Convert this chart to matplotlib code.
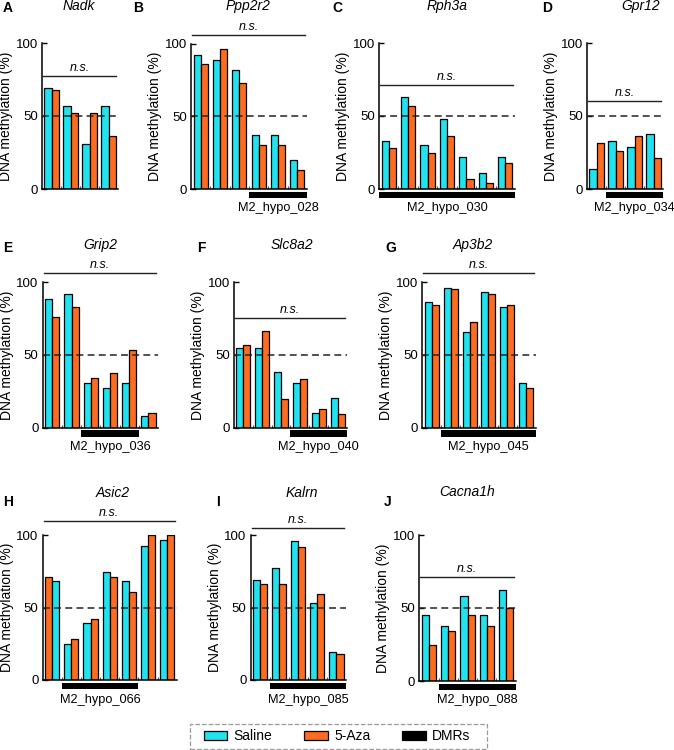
import matplotlib
matplotlib.use("Agg")
import matplotlib.pyplot as plt
from matplotlib.patches import Patch, Rectangle

plt.rcParams["font.family"] = ["Liberation Sans", "DejaVu Sans"]

W, H = 674, 750
SALINE = "#20E3EF"
AZA = "#FF6B1F"

# DNA methylation (%) per CpG site
genes = ["Nadk", "Ppp2r2", "Rph3a", "Gpr12", "Grip2", "Slc8a2", "Ap3b2", "Asic2", "Kalrn", "Cacna1h"]
letters = ["A", "B", "C", "D", "E", "F", "G", "H", "I", "J"]

nadk_saline = [69, 57, 31, 57]
nadk_aza = [68, 52, 52, 36]
ppp2r2_saline = [92, 89, 82, 37, 37, 20]
ppp2r2_aza = [86, 96, 73, 30, 30, 13]
rph3a_saline = [33, 63, 30, 48, 22, 11, 22]
rph3a_aza = [28, 57, 25, 36, 7, 4, 17.5]
gpr12_saline = [13.5, 33, 28.5, 37.5]
gpr12_aza = [31.5, 26, 36.5, 21]
grip2_saline = [88, 92, 31, 27, 31, 8]
grip2_aza = [76, 82.5, 34, 37.5, 53, 10]
slc8a2_saline = [55, 55, 38, 31, 10, 20.5]
slc8a2_aza = [56.5, 66.5, 20, 33.5, 13, 9.5]
ap3b2_saline = [86, 96, 65.5, 93, 82.5, 31]
ap3b2_aza = [84.5, 95.5, 72.5, 92, 84.5, 27]
asic2_saline = [68, 24.5, 39, 74.5, 68, 92.5, 96.5]
asic2_aza = [71, 28, 42, 71, 60.5, 100, 100]
kalrn_saline = [69, 77, 96, 53, 19]
kalrn_aza = [66.5, 66.5, 92, 59.5, 18]
cacna1h_saline = [45.5, 37.5, 58.5, 45.5, 62.5]
cacna1h_aza = [25, 34.5, 45.5, 37.5, 50]

saline = [nadk_saline, ppp2r2_saline, rph3a_saline, gpr12_saline, grip2_saline,
          slc8a2_saline, ap3b2_saline, asic2_saline, kalrn_saline, cacna1h_saline]
aza = [nadk_aza, ppp2r2_aza, rph3a_aza, gpr12_aza, grip2_aza,
       slc8a2_aza, ap3b2_aza, asic2_aza, kalrn_aza, cacna1h_aza]

# height of the n.s. bracket line
ns_levels = [77.5, 106, 71.5, 60.5, 106, 75.5, 106, 109.5, 104.5, 71.5]
# DMR span as (first site, last site + 1)
dmr_ranges = [None, (3, 6), (0, 7), (1, 4), (2, 5), (3, 6), (1, 6), (1, 5), (1, 5), (1, 5)]
dmr_names = [None, "M2_hypo_028", "M2_hypo_030", "M2_hypo_034", "M2_hypo_036",
             "M2_hypo_040", "M2_hypo_045", "M2_hypo_066", "M2_hypo_085", "M2_hypo_088"]
# sites where the 5-Aza bar is drawn on the left
swapped = [[], [], [], [], [], [], [], [0], [], []]

# layout in pixels: axes (left, top, right, bottom), title (x, y), letter (x, y)
layout = [
    ((42, 43, 118, 189), (79, 6), (3, 8)),
    ((191, 43.5, 307, 189), (248.5, 6), (133, 8)),
    ((379, 43, 515, 189), (447, 6), (332, 8)),
    ((587, 43, 663, 189), (641, 6), (542, 8)),
    ((42.7, 282, 158, 427.7), (100, 245), (3, 247.5)),
    ((234, 282, 347, 427.7), (292, 245), (197, 247.5)),
    ((422.3, 282, 535.7, 427.7), (473, 245), (385, 247.5)),
    ((42.7, 535, 176.7, 680), (112.5, 493), (3, 502.5)),
    ((250.7, 535, 346, 680), (301.5, 493), (216, 502.5)),
    ((419.3, 535, 515.7, 681), (467, 492), (384, 502.5)),
]


def fig_xy(x, y):
    return x / W, 1 - y / H


def draw_panel(fig, k):
    (l, t, r, b), title_xy, letter_xy = layout[k]
    ax = fig.add_axes([l / W, 1 - b / H, (r - l) / W, (b - t) / H])
    upp = 100.0 / (b - t)  # data units per pixel
    n = len(saline[k])
    bw = 0.37

    for i in range(n):
        left_c, right_c = SALINE, AZA
        left_v, right_v = saline[k][i], aza[k][i]
        if i in swapped[k]:
            left_c, right_c = AZA, SALINE
            left_v, right_v = aza[k][i], saline[k][i]
        ax.bar(i + 0.5 - bw / 2, left_v, width=bw, color=left_c,
               edgecolor="black", linewidth=0.9, zorder=2)
        ax.bar(i + 0.5 + bw / 2, right_v, width=bw, color=right_c,
               edgecolor="black", linewidth=0.9, zorder=2)

    ax.plot([0, n], [50, 50], color="#222222", lw=1.1,
            linestyle=(0, (4.5, 2.8)), zorder=5, clip_on=False)

    # n.s. bracket
    h = ns_levels[k]
    ax.plot([0.05, n - 0.1], [h, h], color="#222222", lw=1.0, clip_on=False, zorder=5)
    ax.text((n - 0.05) / 2, h + 2.0 * upp, "n.s.", style="italic", fontsize=9,
            ha="center", va="bottom")

    # DMR bar under the axis
    if dmr_ranges[k] is not None:
        s, e = dmr_ranges[k]
        ax.add_patch(Rectangle((s, -9.3 * upp), e - s, 6.6 * upp, facecolor="black",
                               edgecolor="none", clip_on=False))
        ax.text((s + e) / 2, -19.5 * upp, dmr_names[k], fontsize=9.2,
                ha="center", va="center")

    ax.set_xlim(0, n)
    ax.set_ylim(0, 100)
    ax.set_yticks([0, 50, 100])
    ax.set_xticks(range(1, n))
    ax.set_xticklabels([])
    ax.tick_params(axis="y", direction="in", length=3.5, width=1, labelsize=9.5, pad=3)
    ax.tick_params(axis="x", direction="in", length=2.5, width=0.8, color="#555555")
    for side in ["top", "right"]:
        ax.spines[side].set_visible(False)
    for side in ["left", "bottom"]:
        ax.spines[side].set_linewidth(1.1)
    ax.set_ylabel("DNA methylation (%)", fontsize=10)
    ax.yaxis.set_label_coords(-29.0 / (r - l), 0.5)

    fig.text(*fig_xy(*title_xy), genes[k], style="italic", fontsize=10,
             ha="center", va="center")
    fig.text(*fig_xy(*letter_xy), letters[k], fontweight="bold", fontsize=10,
             ha="left", va="center")
    return ax


fig = plt.figure(figsize=(W / 100, H / 100), dpi=100)
for k in range(len(genes)):
    draw_panel(fig, k)

handles = [
    Patch(facecolor=SALINE, edgecolor="black", linewidth=0.9, label="Saline"),
    Patch(facecolor=AZA, edgecolor="black", linewidth=0.9, label="5-Aza"),
    Patch(facecolor="black", edgecolor="black", linewidth=0.9, label="DMRs"),
]
fig.legend(handles=handles, loc="center", bbox_to_anchor=fig_xy(337, 736.5),
           ncol=3, fontsize=10, frameon=False,
           handlelength=1.7, handleheight=0.55, handletextpad=0.45,
           columnspacing=2.3)
# dashed grey box round the legend
fig.patches.append(Rectangle(fig_xy(190, 749), 297 / W, 25 / H, transform=fig.transFigure,
                             fill=False, edgecolor="#999999", linestyle="--", linewidth=0.9))

fig.savefig("out.png", dpi=100)
